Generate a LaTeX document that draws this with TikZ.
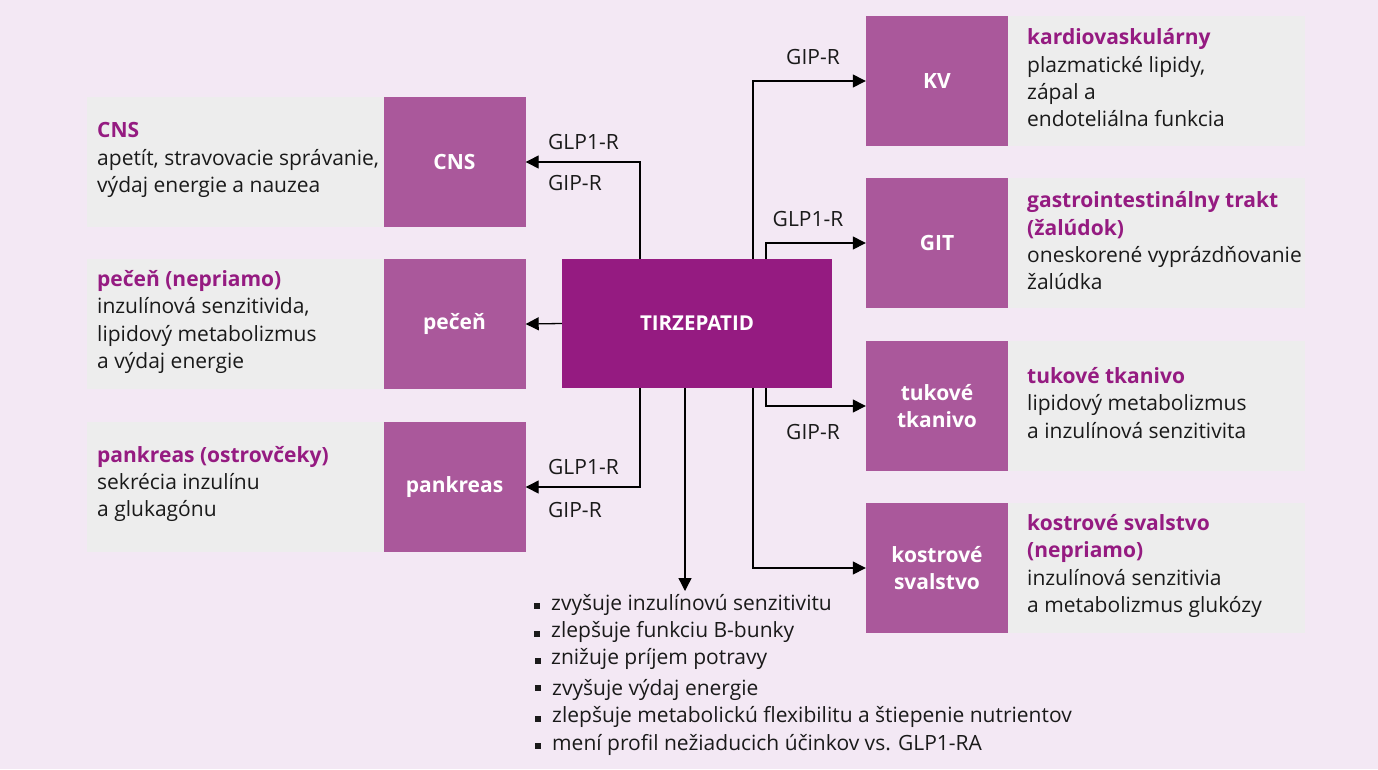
\documentclass[tikz,border=0pt]{standalone}
\usepackage{fontspec}
\setmainfont{Open Sans}
\usetikzlibrary{arrows.meta}
\definecolor{bgc}{HTML}{F3E8F4}
\definecolor{boxc}{HTML}{AA589B}
\definecolor{tzc}{HTML}{951B81}
\definecolor{greyc}{HTML}{EDEDED}
\definecolor{titc}{HTML}{951B81}
\definecolor{txtc}{HTML}{1A1A1A}
\tikzset{
  organ/.style={fill=boxc, minimum width=142pt, minimum height=130pt, inner sep=0pt, text=white, font=\fontsize{21}{27.3}\selectfont\bfseries, align=center},
  panel/.style={fill=greyc, inner sep=0pt, minimum width=297pt, minimum height=130pt, anchor=north west},
  desc/.style={anchor=west, align=left, font=\fontsize{21}{27.3}\selectfont, inner sep=0pt, text=txtc},
  arr/.style={line width=1.3pt, -{Triangle[length=13pt,width=13pt]}},
  rlab/.style={font=\fontsize{21}{24}\selectfont, inner sep=0pt, text=txtc},
  bul/.style={fill=txtc, inner sep=0pt, minimum size=6pt},
  btxt/.style={anchor=west, font=\fontsize{21}{24}\selectfont, inner sep=0pt, text=txtc},
}
\newcommand{\ttl}[1]{{\color{titc}\bfseries #1}}
\begin{document}
\begin{tikzpicture}[x=1pt,y=-1pt]
  \fill[bgc] (0,0) rectangle (1378,769);
  \useasboundingbox (0,0) rectangle (1378,769);

  % left panels
  \node[panel] (cnsp) at (87,97) {};
  \node[panel] (pecp) at (87,259) {};
  \node[panel] (pankp) at (87,422) {};
  % right panels
  \node[panel] (kvp) at (1008,16) {};
  \node[panel] (gitp) at (1008,178) {};
  \node[panel] (tukp) at (1008,341) {};
  \node[panel] (kosp) at (1008,503) {};

  % organ boxes
  \node[organ] (cns) at (454.5,162) {CNS};
  \node[organ] (pec) at (454.5,324) {pečeň};
  \node[organ] (pank) at (454.5,487) {pankreas};
  \node[organ] (kv) at (937,81) {KV};
  \node[organ] (git) at (937,243) {GIT};
  \node[organ] (tuk) at (937,406) {tukové\\tkanivo};
  \node[organ] (kos) at (937,568) {kostrové\\svalstvo};

  % central box
  \node[fill=tzc, minimum width=270pt, minimum height=129pt, inner sep=0pt, text=white, font=\fontsize{20.5}{24}\selectfont\bfseries] (tz) at (697,323.5) {TIRZEPATID};

  % descriptions
  \node[desc] (cnsd) at (97,160) {\ttl{CNS}\\apetít, stravovacie správanie,\\výdaj energie a nauzea};
  \node[desc] (pecd) at (97,322) {\ttl{pečeň (nepriamo)}\\inzulínová senzitivida,\\lipidový metabolizmus\\a výdaj energie};
  \node[desc] (pankd) at (97,484) {\ttl{pankreas (ostrovčeky)}\\sekrécia inzulínu\\a glukagónu};
  \node[desc] (kvd) at (1027,78) {\ttl{kardiovaskulárny}\\plazmatické lipidy,\\zápal a\\endoteliálna funkcia};
  \node[desc] (gitd) at (1027,241) {\ttl{gastrointestinálny trakt}\\\ttl{(žalúdok)}\\oneskorené vyprázdňovanie\\žalúdka};
  \node[desc] (tukd) at (1027,403) {\ttl{tukové tkanivo}\\lipidový metabolizmus\\a inzulínová senzitivita};
  \node[desc] (kosd) at (1027,566) {\ttl{kostrové svalstvo}\\\ttl{(nepriamo)}\\inzulínová senzitivia\\a metabolizmus glukózy};

  % connectors
  \draw[arr] ([xshift=-57pt]tz.north) |- (cns.east);
  \draw[arr] (tz.west) -- (pec.east);
  \draw[arr] ([xshift=-57pt]tz.south) |- (pank.east);
  \draw[arr] ([xshift=56pt]tz.north) |- (kv.west);
  \draw[arr] ([xshift=69pt]tz.north) |- (git.west);
  \draw[arr] ([xshift=69pt]tz.south) |- (tuk.west);
  \draw[arr] ([xshift=56pt]tz.south) |- (kos.west);
  \coordinate (listtop) at (685,591);
  \draw[arr] ([xshift=-12pt]tz.south) -- (listtop);

  % receptor labels
  \node[rlab, anchor=west] (l1) at (548,142) {GLP1-R};
  \node[rlab, anchor=west] (l2) at (548,183) {GIP-R};
  \node[rlab, anchor=west] (l3) at (548,467) {GLP1-R};
  \node[rlab, anchor=west] (l4) at (548,510) {GIP-R};
  \node[rlab] (l5) at (813,57) {GIP-R};
  \node[rlab] (l6) at (808,219) {GLP1-R};
  \node[rlab] (l7) at (813,432) {GIP-R};

  % bullet list
  \node[bul] (b1) at (537,606) {};
  \node[btxt] (t1) at (551,605) {zvyšuje inzulínovú senzitivitu};
  \node[bul] (b2) at (537,634) {};
  \node[btxt] (t2) at (551,632) {zlepšuje funkciu B-bunky};
  \node[bul] (b3) at (538,661) {};
  \node[btxt] (t3) at (551,659) {znižuje príjem potravy};
  \node[bul] (b4) at (538,688) {};
  \node[btxt] (t4) at (552,690) {zvyšuje výdaj energie};
  \node[bul] (b5) at (538,719) {};
  \node[btxt] (t5) at (552,717) {zlepšuje metabolickú flexibilitu a štiepenie nutrientov};
  \node[bul] (b6) at (538,746) {};
  \node[btxt] (t6) at (552,745) {mení profil nežiaducich účinkov vs. GLP1-RA};
\end{tikzpicture}
\end{document}
